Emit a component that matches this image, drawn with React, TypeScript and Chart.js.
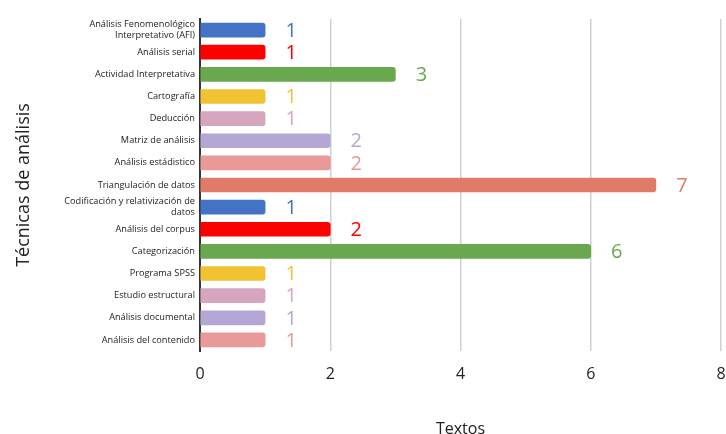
import React, { useEffect, useRef } from "react";
import { Chart, registerables } from "chart.js";

Chart.register(...registerables);

const categories: (string | string[])[] = [
  ["Análisis Fenomenológico", "Interpretativo (AFI)"],
  "Análisis serial",
  "Actividad Interpretativa",
  "Cartografía",
  "Deducción",
  "Matriz de análisis",
  "Análisis estádistico",
  "Triangulación de datos",
  ["Codificación y relativización de", "datos"],
  "Análisis del corpus",
  "Categorización",
  "Programa SPSS",
  "Estudio estructural",
  "Análisis documental",
  "Análisis del contenido",
];

const values = [1, 1, 3, 1, 1, 2, 2, 7, 1, 2, 6, 1, 1, 1, 1];

const barColors = [
  "#4472C4",
  "#FF0000",
  "#6AA84F",
  "#F1C232",
  "#D5A6BD",
  "#B4A7D6",
  "#EA9999",
  "#E07B6A",
  "#4472C4",
  "#FF0000",
  "#6AA84F",
  "#F1C232",
  "#D5A6BD",
  "#B4A7D6",
  "#EA9999",
];

const xTitle = "Textos";
const yTitle = "Técnicas de análisis";
const FONT = "'Open Sans', 'Noto Sans', sans-serif";

const valueLabels = {
  id: "valueLabels",
  afterDatasetsDraw(chart: any) {
    const ctx = chart.ctx;
    const meta = chart.getDatasetMeta(0);
    ctx.save();
    ctx.font = `20px ${FONT}`;
    ctx.textAlign = "center";
    ctx.textBaseline = "middle";
    meta.data.forEach((bar: any, i: number) => {
      ctx.fillStyle = barColors[i];
      ctx.fillText(String(values[i]), bar.x + 26, bar.y + 1);
    });
    ctx.restore();
  },
};

export default function App() {
  const ref = useRef<HTMLCanvasElement>(null);
  useEffect(() => {
    if (!ref.current) return;
    const chart = new Chart(ref.current, {
      type: "bar",
      data: {
        labels: categories,
        datasets: [
          {
            data: values,
            backgroundColor: barColors,
            barThickness: 14,
            borderRadius: 3,
            borderSkipped: "start",
          },
        ],
      },
      options: {
        indexAxis: "y",
        animation: false,
        responsive: false,
        layout: { padding: { top: 19, right: 0, left: 0, bottom: 0 } },
        plugins: {
          legend: { display: false },
          tooltip: { enabled: false },
        },
        scales: {
          x: {
            min: 0,
            max: 8,
            ticks: {
              stepSize: 2,
              padding: 14,
              color: "#222",
              font: { family: FONT, size: 16 },
            },
            grid: {
              drawTicks: false,
              color: (c: any) => (c.tick && c.tick.value === 0 ? "rgba(0,0,0,0)" : "#D0D0D0"),
              lineWidth: 1.5,
            },
            border: { display: false },
            title: {
              display: true,
              text: xTitle,
              color: "#222",
              font: { family: FONT, size: 16 },
              padding: { top: 0, bottom: -5 },
            },
            afterFit(scale: any) {
              scale.height = 83;
              scale.paddingLeft = 0;
              scale.paddingRight = 5;
            },
          },
          y: {
            ticks: {
              padding: 5,
              color: "#222",
              font: { family: FONT, size: 9.2, lineHeight: 1.15 },
              autoSkip: false,
            },
            grid: { display: false, drawTicks: false },
            border: { display: true, color: "#333", width: 2 },
            title: {
              display: true,
              text: yTitle,
              color: "#222",
              font: { family: FONT, size: 18 },
              padding: { top: 13, bottom: 0 },
            },
            afterFit(scale: any) {
              scale.width = 200;
            },
          },
        },
      },
      plugins: [valueLabels],
    });
    return () => chart.destroy();
  }, []);
  return (
    <div style={{ position: "fixed", left: 0, top: 0, width: 726, height: 434, background: "#fff" }}>
      <canvas ref={ref} width={726} height={434} />
    </div>
  );
}
